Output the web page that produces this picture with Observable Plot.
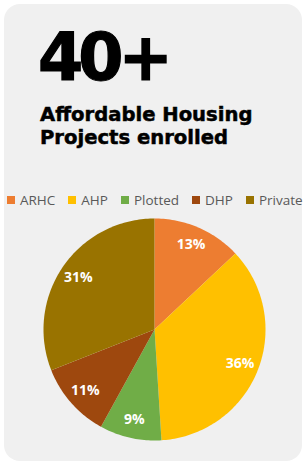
<!DOCTYPE html>
<html>
<head>
<meta charset="utf-8">
<script src="https://cdn.jsdelivr.net/npm/d3@7"></script>
<script src="https://cdn.jsdelivr.net/npm/@observablehq/plot@0.6"></script>
<style>
  html, body { margin: 0; padding: 0; background: #ffffff; }
  #wrap { position: relative; width: 304px; height: 463px; overflow: hidden; background: #ffffff; }
  #card { position: absolute; left: 4px; top: 4px; width: 298px; height: 457px; background: #f0f0f0; border-radius: 16px; }
  #big { position: absolute; left: 38px; top: 21px; font-family: "DejaVu Sans", sans-serif; font-weight: bold; font-size: 65px; line-height: 74px; letter-spacing: -5px; color: #000; margin: 0; white-space: nowrap; -webkit-text-stroke: 1.2px #000; }
  #sub { position: absolute; left: 40px; top: 103px; font-family: "DejaVu Sans", sans-serif; font-weight: bold; font-size: 19.6px; line-height: 23px; color: #000; margin: 0; white-space: nowrap; -webkit-text-stroke: 0.5px #000; }
  #legend { position: absolute; left: 7px; top: 191px; height: 18px; display: flex; align-items: center; white-space: nowrap; font-family: "Open Sans", sans-serif; font-size: 13.5px; color: #595959; }
  .item { display: flex; align-items: center; margin-right: 13px; }
  .sw { width: 8px; height: 8px; margin-right: 5px; display: inline-block; }
  #pie { position: absolute; left: 0; top: 218px; }
</style>
</head>
<body>
<div id="wrap">
  <div id="card"></div>
  <div id="big">40+</div>
  <div id="sub">Affordable Housing<br>Projects enrolled</div>
  <div id="legend"></div>
  <div id="pie"></div>
</div>
<script>
const categories = ["ARHC", "AHP", "Plotted", "DHP", "Private"];
const values = [13, 36, 9, 11, 31];
const labels = ["13%", "36%", "9%", "11%", "31%"];
const colors = ["#ED7D31", "#FFC000", "#70AD47", "#9E480E", "#997300"];

// legend
const legend = document.getElementById("legend");
categories.forEach((c, i) => {
  const it = document.createElement("span");
  it.className = "item";
  const sw = document.createElement("span");
  sw.className = "sw";
  sw.style.background = colors[i];
  it.appendChild(sw);
  it.appendChild(document.createTextNode(c));
  legend.appendChild(it);
});

// pie geometry through d3.pie, drawn with Plot.geo in an identity projection
const arcs = d3.pie().sort(null).value(d => d.value)(
  categories.map((c, i) => ({category: c, value: values[i], label: labels[i]}))
);
const pt = (a, r) => [r * Math.sin(a), -r * Math.cos(a)];
const features = arcs.map(a => {
  const n = Math.max(4, Math.ceil((a.endAngle - a.startAngle) / 0.02));
  const ring = [[0, 0]];
  for (let k = 0; k <= n; k++) ring.push(pt(a.startAngle + (a.endAngle - a.startAngle) * k / n, 1));
  ring.push([0, 0]);
  return {type: "Feature", properties: {category: a.data.category}, geometry: {type: "Polygon", coordinates: [ring]}};
});
const labelData = arcs.map(a => {
  const m = (a.startAngle + a.endAngle) / 2;
  const [x, y] = pt(m, 0.83);
  return {x, y, label: a.data.label};
});

const chart = Plot.plot({
  width: 304,
  height: 222,
  marginLeft: 4, marginRight: 0, marginTop: 0, marginBottom: 0,
  projection: {type: "identity", domain: {type: "MultiPoint", coordinates: [[-1, -1], [1, 1]]}},
  color: {domain: categories, range: colors},
  style: {background: "transparent", overflow: "visible"},
  marks: [
    Plot.geo(features, {fill: d => d.properties.category, stroke: "none"}),
    Plot.text(labelData, {x: "x", y: "y", text: "label", fill: "#ffffff", fontSize: 14, fontWeight: "bold", fontFamily: "Open Sans"})
  ]
});
document.getElementById("pie").appendChild(chart);
</script>
</body>
</html>
